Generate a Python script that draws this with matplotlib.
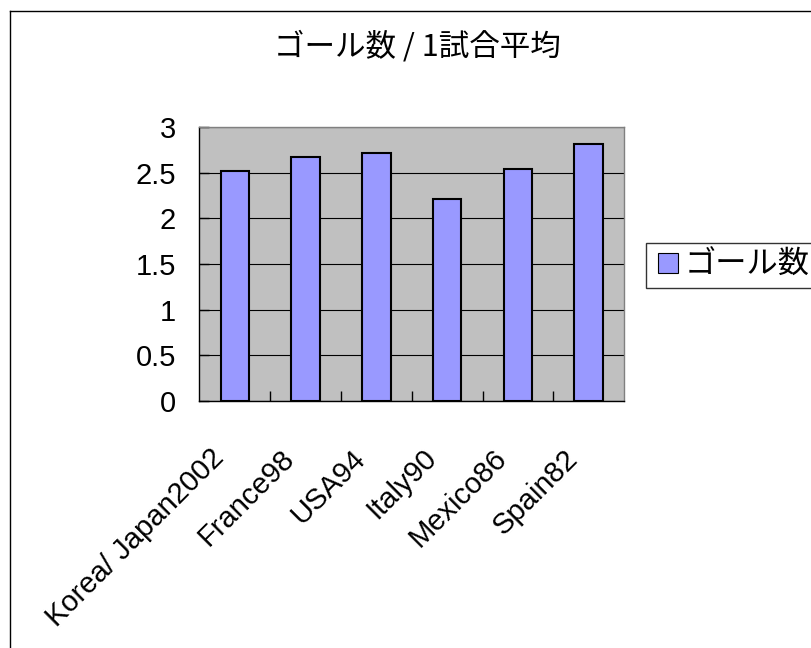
import matplotlib
matplotlib.use("Agg")
import matplotlib.pyplot as plt
from matplotlib.lines import Line2D
from matplotlib.transforms import ScaledTranslation

# Average goals per match for each World Cup
tournaments = ["Korea/ Japan2002", "France98", "USA94", "Italy90", "Mexico86", "Spain82"]
goals_per_match = [2.52, 2.67, 2.71, 2.21, 2.54, 2.81]
y_ticks = [0, 0.5, 1, 1.5, 2, 2.5, 3]
y_tick_labels = ["0", "0.5", "1", "1.5", "2", "2.5", "3"]
series_name = "ゴール数"
title_text = "ゴール数 / 1試合平均"

LATIN = ["Liberation Sans", "DejaVu Sans"]
CJK = ["Noto Sans CJK JP", "DejaVu Sans"]
BAR_COLOR = "#9999FF"

W, H, DPI = 812, 648, 100
fig = plt.figure(figsize=(W / DPI, H / DPI), dpi=DPI)
fig.patch.set_facecolor("white")

# outer chart frame (left and top edges visible)
fig.add_artist(Line2D([10 / W, 10 / W], [0, 1 - 11 / H], transform=fig.transFigure,
                      color="black", lw=1.0))
fig.add_artist(Line2D([10 / W, 1.0], [1 - 11 / H, 1 - 11 / H], transform=fig.transFigure,
                      color="black", lw=1.0))

left, right, top, bottom = 199.5, 624, 127, 401
ax = fig.add_axes([left / W, 1 - bottom / H, (right - left) / W, (bottom - top) / H])
ax.set_facecolor("#C0C0C0")

x = list(range(len(tournaments)))
ax.bar(x, goals_per_match, width=0.4, color=BAR_COLOR, edgecolor="black",
       linewidth=1.5, zorder=3)

ax.set_xlim(-0.5, len(tournaments) - 0.5)
ax.set_ylim(0, 3)
ax.set_yticks(y_ticks)
ax.set_yticklabels(y_tick_labels, fontsize=21, family=LATIN)
ax.yaxis.grid(True, color="black", lw=0.8, zorder=1)
ax.set_axisbelow(True)
ax.tick_params(axis="y", direction="in", length=7, width=1, pad=17, colors="black")

# category labels at centres, tick marks at category boundaries
ax.set_xticks(x)
ax.set_xticks([i + 0.5 for i in range(len(tournaments) - 1)], minor=True)
ax.set_xticklabels(tournaments, fontsize=21, family=LATIN, rotation=45,
                   ha="right", va="top", rotation_mode="anchor")
ax.tick_params(axis="x", which="major", length=0, pad=31)
ax.tick_params(axis="x", which="minor", direction="in", length=7, width=1, color="black")
shift = ScaledTranslation(-25 / DPI, 0, fig.dpi_scale_trans)
for lbl in ax.get_xticklabels():
    lbl.set_transform(lbl.get_transform() + shift)

for side in ("left", "bottom"):
    ax.spines[side].set_color("black")
    ax.spines[side].set_linewidth(1.0)
for side in ("top", "right"):
    ax.spines[side].set_color("#808080")
    ax.spines[side].set_linewidth(1.0)

fig.text(417 / W, 1 - 47 / H, title_text, ha="center", va="center",
         fontsize=22, family=CJK, color="black")

# legend with a small square key
key = Line2D([], [], linestyle="none", marker="s", markersize=14.4,
             markerfacecolor=BAR_COLOR, markeredgecolor="black",
             markeredgewidth=0.8, label=series_name)
leg = fig.legend(handles=[key],
                 loc="upper left", bbox_to_anchor=(646 / W, 1 - 243 / H),
                 bbox_transform=fig.transFigure, borderaxespad=0,
                 prop={"family": CJK, "size": 22.5}, frameon=True, fancybox=False,
                 handlelength=0.98, handletextpad=0.05, borderpad=0.2)
leg.get_frame().set_edgecolor("black")
leg.get_frame().set_linewidth(1.0)

fig.savefig("out.png", dpi=DPI)
